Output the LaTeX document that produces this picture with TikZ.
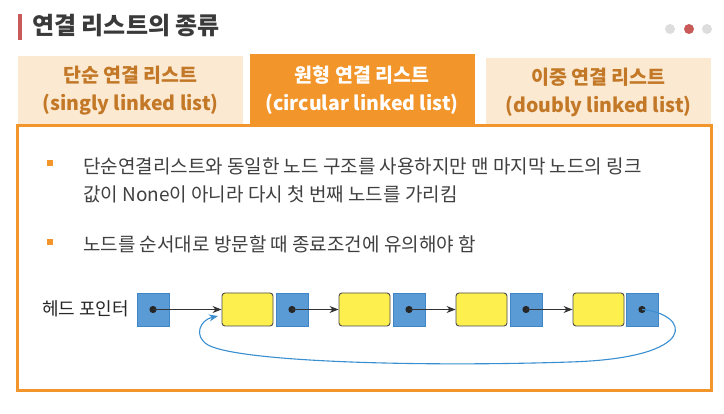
\documentclass[tikz,border=0pt]{standalone}
\usepackage{fontspec}
\setmainfont{Noto Sans CJK KR}
\usetikzlibrary{arrows.meta}
\definecolor{titlegray}{HTML}{3A3A3A}
\definecolor{barred}{HTML}{C85A5A}
\definecolor{dotgray}{HTML}{DDDDDD}
\definecolor{tablight}{HTML}{FCE9D2}
\definecolor{tabtext}{HTML}{C27826}
\definecolor{orangemain}{HTML}{F2952A}
\definecolor{bodytext}{HTML}{404040}
\definecolor{nodeblue}{HTML}{5B9BD5}
\definecolor{nodeblueedge}{HTML}{3F86C8}
\definecolor{nodeyellow}{HTML}{FCEF4E}
\definecolor{curveblue}{HTML}{3A8FD0}
\begin{document}
\begin{tikzpicture}[x=1pt,y=-1pt,
  tabbox/.style={minimum width=225pt, minimum height=69pt, inner sep=0pt, align=center, font=\fontsize{19.5}{28}\selectfont\bfseries},
  bluebox/.style={draw=nodeblueedge, fill=nodeblue, line width=0.8pt, minimum width=32pt, minimum height=33pt, inner sep=0pt},
  yellowbox/.style={draw=black!70, fill=nodeyellow, line width=0.9pt, rounded corners=3pt, minimum width=51pt, minimum height=33pt, inner sep=0pt},
  link/.style={-{Stealth[length=9pt,width=7pt]}, line width=0.9pt, draw=black!80},
  curve/.style={-{Stealth[length=9pt,width=7pt]}, line width=1.1pt, draw=curveblue},
  bullettext/.style={anchor=west, inner sep=0pt, text=bodytext, font=\fontsize{19}{28}\selectfont, align=left},
  bulletsq/.style={fill=orangemain, minimum size=6pt, inner sep=0pt}
]
\useasboundingbox (0,0) rectangle (724,414);
% title
\fill[barred] (18,14) rectangle (21.5,40);
\node[anchor=west, inner sep=0pt, text=titlegray, font=\fontsize{24}{28}\selectfont\bfseries] (title) at (32,26) {연결 리스트의 종류};
% page dots
\fill[dotgray] (670,29) circle (5);
\fill[barred] (689,29) circle (5);
\fill[dotgray] (707,29) circle (5);
% tabs
\node[tabbox, fill=tablight, text=tabtext] (tab1) at (130.5,91) {단순 연결 리스트\\(singly linked list)};
\node[tabbox, fill=orangemain, text=white, minimum height=71pt] (tab2) at (362,90) {원형 연결 리스트\\(circular linked list)};
\node[tabbox, fill=tablight, text=tabtext, minimum height=67pt] (tab3) at (598.5,92) {이중 연결 리스트\\(doubly linked list)};
% main box
\draw[orangemain, line width=3pt, fill=white] (17,126) rectangle (711,391);
% bullets
\node[bulletsq] (b1) at (50,163) {};
\node[bullettext] (t1) at (83,180) {단순연결리스트와 동일한 노드 구조를 사용하지만 맨 마지막 노드의 링크\\값이 None이 아니라 다시 첫 번째 노드를 가리킴};
\node[bulletsq] (b2) at (50,242) {};
\node[bullettext] (t2) at (83,244) {노드를 순서대로 방문할 때 종료조건에 유의해야 함};
% list
\node[anchor=west, inner sep=0pt, text=black!85, font=\fontsize{18}{20}\selectfont] (hl) at (42,309) {헤드 포인터};
\node[bluebox] (h) at (153,309.5) {};
\node[yellowbox] (y1) at (247.5,309.5) {};
\node[bluebox] (b1n) at (292,309.5) {};
\node[yellowbox] (y2) at (364.5,309.5) {};
\node[bluebox] (b2n) at (409,309.5) {};
\node[yellowbox] (y3) at (481.5,309.5) {};
\node[bluebox] (b3n) at (526,309.5) {};
\node[yellowbox] (y4) at (598.5,309.5) {};
\node[bluebox] (b4n) at (642,309.5) {};
\foreach \n in {h,b1n,b2n,b3n,b4n} \fill[black!85] (\n.center) circle (3.6);
\draw[link] (h.center) -- (y1.west);
\draw[link] (b1n.center) -- (y2.west);
\draw[link] (b2n.center) -- (y3.west);
\draw[link] (b3n.center) -- (y4.west);
\coordinate (back) at (218,316);
\draw[curve] (b4n.center) .. controls (690,314) and (702,358) .. (570,362)
  .. controls (420,367) and (240,362) .. (208,345)
  .. controls (193,336) and (200,320) .. (back);
\end{tikzpicture}
\end{document}
